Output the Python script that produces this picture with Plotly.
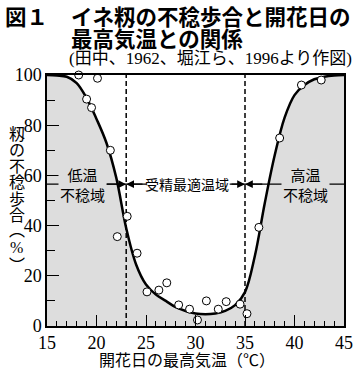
import plotly.graph_objects as go

# ---- data ----
obs_temp = [18.2, 20.1, 19.0, 19.5, 21.4, 23.1, 22.1, 24.1, 25.1, 26.3, 27.1, 28.3,
            29.4, 30.2, 31.1, 32.3, 33.1, 34.5, 35.2, 36.4, 38.5, 40.7, 42.7]
obs_sterility = [100, 98.7, 90.4, 87, 70, 43.7, 35.6, 29, 13.6, 14.3, 17.2, 8.4,
                 6.7, 2.4, 10, 6.7, 9.7, 8.7, 4.9, 39.3, 74.9, 96, 98]

curve_temp = [15, 16, 17, 18, 19, 20, 21, 22, 23, 24, 25, 26, 27, 28, 29, 30,
              31, 32, 33, 34, 35, 36, 37, 38, 39, 40, 41, 42, 43, 44, 45]
curve_sterility = [100, 99.8, 99.3, 96.8, 90.8, 82.5, 73, 59, 39, 24.5, 16.5, 12.5,
                   10, 7.5, 6, 5, 4.7, 5, 6, 8.3, 13.5, 28, 49, 68, 83, 92, 96,
                   98.3, 99.3, 99.8, 100]

boundaries = [23, 35]
band_level = 56.5
x_ticks = [15, 20, 25, 30, 35, 40, 45]
y_ticks = [0, 20, 40, 60, 80, 100]

GRAY = "#dddddd"
SANS = "Noto Sans CJK JP"
SERIF = "Liberation Serif, Noto Sans CJK JP"

fig = go.Figure()

# fill under curve
fig.add_trace(go.Scatter(x=curve_temp, y=curve_sterility, mode="lines",
                         line=dict(color="black", width=2.5, shape="spline", smoothing=1.0),
                         fill="tozeroy", fillcolor=GRAY, hoverinfo="skip", showlegend=False))

# horizontal band line
fig.add_trace(go.Scatter(x=[curve_temp[0], curve_temp[-1]], y=[band_level, band_level],
                         mode="lines", line=dict(color="black", width=1.2),
                         hoverinfo="skip", showlegend=False))

# dashed boundaries
for b in boundaries:
    fig.add_trace(go.Scatter(x=[b, b], y=[y_ticks[0], y_ticks[-1]], mode="lines",
                             line=dict(color="black", width=1.5, dash="5px,3px"),
                             hoverinfo="skip", showlegend=False))

# observations
fig.add_trace(go.Scatter(x=obs_temp, y=obs_sterility, mode="markers",
                         marker=dict(symbol="circle", size=8, color="white",
                                     line=dict(color="black", width=1)),
                         cliponaxis=False, showlegend=False))

# plot-area pixel geometry helpers (for text placement)
L, R, T, B = 47, 353, 75, 326
W, H = 362, 368


def px(x, y):
    return (x - L) / (R - L), (B - y) / (B - T)


annotations = []


def txt(text, x, y, size, family, xanchor="center", yanchor="middle", **kw):
    ax, ay = px(x, y)
    annotations.append(dict(text=text, x=ax, y=ay, xref="paper", yref="paper",
                            showarrow=False, xanchor=xanchor, yanchor=yanchor,
                            font=dict(size=size, family=family, color="black"), **kw))


# titles
txt("<b>図１</b>", 2, 15, 21.5, SANS, xanchor="left")
txt("<b>イネ籾の不稔歩合と開花日の</b>", 70, 15, 21.5, SANS, xanchor="left")
txt("<b>最高気温との関係</b>", 70, 38, 21.5, SANS, xanchor="left")
txt("(田中、1962、堀江ら、1996より作図)", 68, 58.5, 17, SERIF, xanchor="left")

# x-axis title
txt("開花日の最高気温（℃）", 191, 361, 16, SERIF)

# y-axis title (vertical)
ychars = ["籾", "の", "不", "稔", "歩", "合", "︵", "%", "︶"]
ypos = [134.5, 150.5, 166.5, 182.5, 199, 215.5, 230, 247, 265]
for ch, yy in zip(ychars, ypos):
    txt(ch, 16, yy, 16, SERIF)

# region labels
annotations.append(dict(text="低温<br>不稔域", x=18.55, y=band_level, xref="x", yref="y",
                        showarrow=False, bgcolor=GRAY, borderpad=1,
                        font=dict(size=15, family=SANS, color="black")))
annotations.append(dict(text="受精最適温域", x=29.1, y=band_level, xref="x", yref="y",
                        showarrow=False, bgcolor="white", borderpad=2,
                        font=dict(size=14, family=SANS, color="black")))
annotations.append(dict(text="高温<br>不稔域", x=41.1, y=band_level, xref="x", yref="y",
                        showarrow=False, bgcolor=GRAY, borderpad=1,
                        font=dict(size=15, family=SANS, color="black")))

# arrows pointing at boundaries
arrow_tails = [(20.9, boundaries[0]), (25.2, boundaries[0]),
               (33.3, boundaries[1]), (36.9, boundaries[1])]
for tail, tip in arrow_tails:
    annotations.append(dict(text="", x=tip, y=band_level, ax=tail, ay=band_level,
                            xref="x", yref="y", axref="x", ayref="y",
                            showarrow=True, arrowhead=2, arrowsize=1.3, arrowwidth=1.2,
                            arrowcolor="black", standoff=0, startstandoff=0))

fig.update_layout(
    width=W, height=H,
    margin=dict(l=L, r=W - R, t=T, b=H - B),
    paper_bgcolor="white", plot_bgcolor="white",
    annotations=annotations,
    xaxis=dict(range=[15, 45], tickvals=x_ticks, ticks="inside", ticklen=11, tickwidth=1,
               tickcolor="black", showline=True, linecolor="black", linewidth=1.5,
               mirror=True, showgrid=False, zeroline=False,
               minor=dict(dtick=1, ticks="inside", ticklen=5, tickwidth=1, tickcolor="black",
                          showgrid=False),
               tickfont=dict(size=18, family="Liberation Serif", color="black")),
    yaxis=dict(range=[0, 100], tickvals=y_ticks, ticks="inside", ticklen=12, tickwidth=1,
               tickcolor="black", showline=True, linecolor="black", linewidth=1.5,
               mirror=True, showgrid=False, zeroline=False,
               minor=dict(dtick=10, ticks="inside", ticklen=8, tickwidth=1, tickcolor="black",
                          showgrid=False),
               tickfont=dict(size=18, family="Liberation Serif", color="black")),
)

fig.write_html("out.html", config={"displayModeBar": False},
               post_script="document.body.style.margin='0';")
